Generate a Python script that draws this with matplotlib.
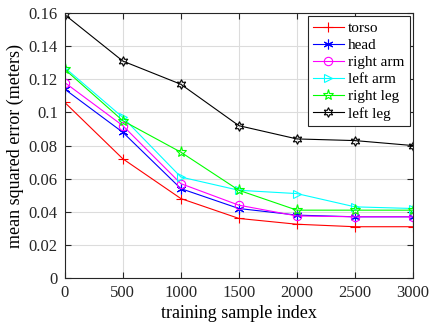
import numpy as np
import matplotlib
matplotlib.use("Agg")
import matplotlib.pyplot as plt

# ─── Data ─────────────────────────────────────────────────────────────────────
samples = [0, 500, 1000, 1500, 2000, 2500, 3000]
torso     = [0.106, 0.072, 0.048, 0.036, 0.0325, 0.031, 0.031]
head      = [0.114, 0.088, 0.054, 0.042, 0.038, 0.037, 0.037]
right_arm = [0.118, 0.092, 0.057, 0.044, 0.0375, 0.037, 0.037]
left_arm  = [0.127, 0.097, 0.061, 0.053, 0.051, 0.043, 0.042]
right_leg = [0.126, 0.095, 0.076, 0.053, 0.041, 0.041, 0.041]
left_leg  = [0.159, 0.131, 0.117, 0.092, 0.084, 0.083, 0.080]

plt.rcParams["font.family"] = ["Liberation Serif", "DejaVu Serif"]

fig = plt.figure(figsize=(4.32, 3.26), dpi=100)
ax = fig.add_axes([0.150, 0.147, 0.806, 0.813])

series = [
    ("torso",     torso,     "#ff0000", dict(marker="+", ms=7)),
    ("head",      head,      "#0000ff", dict(marker=(6, 2, 0), ms=7)),
    ("right arm", right_arm, "#ff00ff", dict(marker="o", ms=6, mfc="none")),
    ("left arm",  left_arm,  "#00ffff", dict(marker=">", ms=6, mfc="none")),
    ("right leg", right_leg, "#00ff00", dict(marker="*", ms=8, mfc="none")),
    ("left leg",  left_leg,  "#000000", dict(marker=(6, 1, 0), ms=7, mfc="none")),
]
for label, vals, col, mk in series:
    ax.plot(samples, vals, color=col, lw=0.8, label=label, mew=0.8, **mk)

ax.set_xlim(0, 3000)
ax.set_ylim(0, 0.16)
ax.set_xticks(samples)
ax.set_yticks(np.arange(0, 0.161, 0.02))
ax.set_yticklabels(["0", "0.02", "0.04", "0.06", "0.08", "0.1", "0.12", "0.14", "0.16"])
ax.grid(color="#dcdcdc", lw=0.8)
ax.set_axisbelow(True)
ax.tick_params(direction="in", labelsize=12, top=True, right=True, length=4,
               colors="#262626", pad=5)
for s in ax.spines.values():
    s.set_color("#262626")
ax.set_xlabel("training sample index", fontsize=13, labelpad=3)
ax.set_ylabel("mean squared error (meters)", fontsize=13, labelpad=3)

leg = ax.legend(loc="upper right", fontsize=11, fancybox=False, framealpha=1,
                edgecolor="#262626", handlelength=2.0, borderpad=0.35,
                labelspacing=0.22, handletextpad=0.3, borderaxespad=0.2)
leg.get_frame().set_linewidth(0.8)

fig.savefig("out.png", dpi=100)
